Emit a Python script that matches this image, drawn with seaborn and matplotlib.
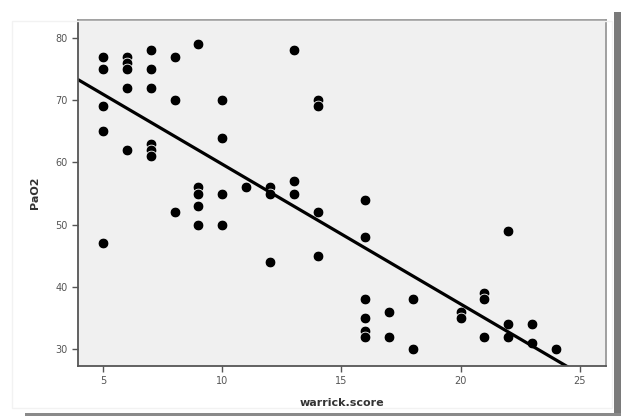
import pandas as pd
import matplotlib
matplotlib.use('Agg')
import matplotlib.pyplot as plt
import seaborn as sns
from matplotlib.patches import Rectangle

# values
warrick_score = [5, 5, 5, 5, 5,
                 6, 6, 6, 6, 6,
                 7, 7, 7, 7, 7, 7,
                 8, 8, 8,
                 9, 9, 9, 9, 9,
                 10, 10, 10, 10,
                 11,
                 12, 12, 12,
                 13, 13, 13,
                 14, 14, 14, 14,
                 16, 16, 16, 16, 16, 16,
                 17, 17,
                 18, 18,
                 20, 20,
                 21, 21, 21,
                 22, 22, 22,
                 23, 23,
                 24]
pao2 = [77, 75, 69, 65, 47,
        77, 76, 75, 72, 62,
        78, 75, 72, 63, 62, 61,
        77, 70, 52,
        79, 56, 55, 53, 50,
        70, 64, 55, 50,
        56,
        56, 55, 44,
        78, 57, 55,
        70, 69, 52, 45,
        54, 48, 38, 35, 33, 32,
        36, 32,
        38, 30,
        36, 35,
        39, 38, 32,
        49, 34, 32,
        34, 31,
        30]
x_ticks = [5, 10, 15, 20, 25]
y_ticks = [30, 40, 50, 60, 70, 80]

df = pd.DataFrame({'warrick.score': warrick_score, 'PaO2': pao2})

sns.set_style('ticks')
plt.rcParams['font.family'] = ['DejaVu Sans']

fig = plt.figure(figsize=(6.21, 4.16), dpi=100)
fig.patch.set_facecolor('white')
# screenshot frame: faint border plus dark shadow on right and bottom
fig.patches.append(Rectangle((0.02, 0.02), 0.965, 0.93, transform=fig.transFigure,
                             facecolor='none', edgecolor='#f2f2f2', lw=1.0, zorder=0))
fig.patches.append(Rectangle((0.988, 0.0), 0.012, 0.97, transform=fig.transFigure,
                             facecolor='#7a7a7a', edgecolor='none', zorder=0))
fig.patches.append(Rectangle((0.04, 0.0), 0.96, 0.008, transform=fig.transFigure,
                             facecolor='#8a8a8a', edgecolor='none', zorder=0))

ax = fig.add_axes([0.1256, 0.1202, 0.8502, 0.8318])
ax.set_facecolor('#f0f0f0')
ax.set_xlim(3.95, 26.1)
ax.set_ylim(27.3, 82.9)

sns.regplot(data=df, x='warrick.score', y='PaO2', ax=ax, ci=None, truncate=False,
            scatter_kws={'s': 60, 'color': 'black', 'edgecolor': 'white', 'linewidths': 0.6,
                         'alpha': 1},
            line_kws={'color': 'black', 'lw': 2.3})
ax.set_xlim(3.95, 26.1)
ax.set_ylim(27.3, 82.9)

ax.set_xticks(x_ticks)
ax.set_yticks(y_ticks)
ax.tick_params(axis='both', length=4, width=1, color='#555555', labelsize=7,
               labelcolor='#555555', direction='out')
ax.set_xlabel('warrick.score', fontsize=8, fontweight='bold', color='#333333', labelpad=8)
ax.set_ylabel('PaO2', fontsize=8, fontweight='bold', color='#333333', labelpad=11)

for side in ['left', 'bottom']:
    ax.spines[side].set_color('#555555')
    ax.spines[side].set_linewidth(1.3)
for side in ['top', 'right']:
    ax.spines[side].set_visible(True)
    ax.spines[side].set_color('#999999')
    ax.spines[side].set_linewidth(1.3)

fig.savefig('out.png', dpi=100)
